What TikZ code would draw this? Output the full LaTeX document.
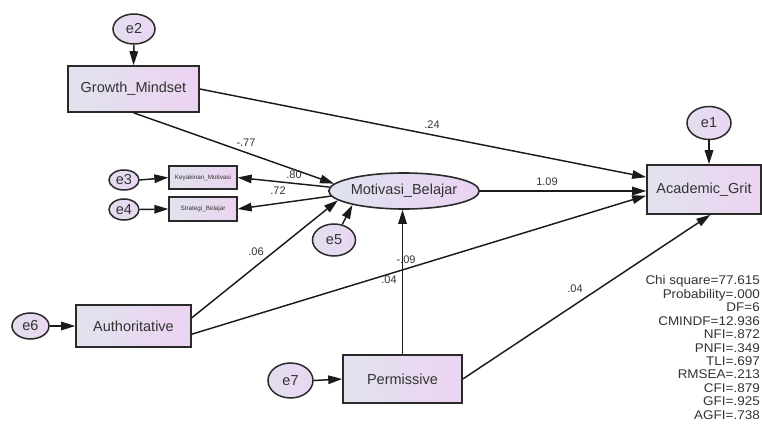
\documentclass[tikz,border=0pt]{standalone}
\usepackage{fontspec}
\usepackage{graphicx}
\setmainfont{Liberation Sans}
\usetikzlibrary{arrows.meta,shapes.geometric,calc}
\definecolor{boxL}{HTML}{E1E3EE}
\definecolor{boxR}{HTML}{ECD3F1}
\definecolor{latL}{HTML}{DFE2F0}
\definecolor{latR}{HTML}{EAD2F1}
\definecolor{errL}{HTML}{E3DEF0}
\definecolor{errR}{HTML}{EAD6F1}
\definecolor{bord}{HTML}{2A2A2A}
\definecolor{lin}{HTML}{1A1A1A}
\definecolor{txt}{HTML}{333333}
\begin{document}
\begin{tikzpicture}[x=1pt,y=-1pt,
  every node/.style={inner sep=0pt, text=txt},
  obsbox/.style={draw=bord, line width=1.6pt, left color=boxL, right color=boxR, font=\fontsize{14.5}{17}\selectfont},
  smallbox/.style={draw=bord, line width=1.3pt, left color=boxL, right color=boxR, font=\fontsize{6.3}{7}\selectfont, minimum width=68pt, minimum height=23pt},
  errc/.style={ellipse, draw=bord, line width=1.5pt, left color=errL, right color=errR, font=\fontsize{14.5}{16}\selectfont},
  lat/.style={ellipse, draw=bord, line width=1.6pt, left color=latL, right color=latR, font=\fontsize{14.5}{17}\selectfont},
  conn/.style={draw=lin, line width=1.45pt, -{Triangle[length=14pt,width=8.5pt]}},
  coef/.style={font=\fontsize{11}{13}\selectfont},
  stat/.style={font=\fontsize{12.6}{13.4}\selectfont, anchor=base east}
]
\useasboundingbox (0,0) rectangle (762,427);
\clip (0,0) rectangle (762,427);
\fill[white] (0,0) rectangle (762,427);

% nodes
\node[obsbox, minimum width=131pt, minimum height=46pt] (gm) at (133.5,89) {Growth\_Mindset};
\node[errc, minimum width=42pt, minimum height=30pt] (e2) at (134,29) {e2};
\node[lat, minimum width=136pt, minimum height=36pt] (mb) at (404,191) {Motivasi\_Belajar};
\node[errc, minimum width=43pt, minimum height=32pt] (e5) at (334,240) {e5};
\node[obsbox, minimum width=114pt, minimum height=49pt] (ag) at (704,189.5) {Academic\_Grit};
\node[errc, minimum width=44pt, minimum height=33pt] (e1) at (709,123) {e1};
\node[smallbox] (km) at (203,177.5) {Keyakinan\_Motivasi};
\node[smallbox, minimum height=24pt] (sb) at (203,209) {Strategi\_Belajar};
\node[errc, minimum width=30pt, minimum height=20pt] (e3) at (124,180) {e3};
\node[errc, minimum width=30pt, minimum height=21pt] (e4) at (124,209.5) {e4};
\node[obsbox, minimum width=115pt, minimum height=42pt] (au) at (133.5,326) {Authoritative};
\node[errc, minimum width=37pt, minimum height=26pt] (e6) at (30.5,326) {e6};
\node[obsbox, minimum width=119pt, minimum height=48pt] (pe) at (402.5,379) {Permissive};
\node[errc, minimum width=45pt, minimum height=35pt] (e7) at (290.5,380.5) {e7};

% connectors
\draw[conn] (e2.south) -- (gm.north);
\draw[conn] (e1.south) -- (e1.south |- ag.north);
\draw[conn] (e3.east) -- (km.west);
\draw[conn] (e4.east) -- (sb.west);
\draw[conn] (e6.east) -- (au.west);
\draw[conn] (e7.east) -- (pe.west);
\draw[conn] (e5.62) -- (mb.195);
\draw[conn] (gm.south) -- (mb.174);
\draw[conn] (mb.177) -- (km.east);
\draw[conn] (mb.184) -- (sb.east);
\draw[conn] (au.8) -- (mb.188);
\draw[conn] (au.-8) -- (ag.186.5);
\draw[conn] (gm.east) -- (ag.168);
\draw[conn] (mb.east) -- (mb.east -| ag.west);
\draw[conn] (pe.north) -- (pe.north |- mb.south);
\draw[conn] (pe.east) -- (ag.-76);

% coefficients
\node[coef] (c1) at (246,143) {-.77};
\node[coef] (c2) at (432,125) {.24};
\node[coef] (c3) at (294,175) {.80};
\node[coef] (c4) at (278,191) {.72};
\node[coef] (c5) at (547,182) {1.09};
\node[coef] (c6) at (256,252) {.06};
\node[coef] (c7) at (406,260) {-.09};
\node[coef] (c8) at (389,280) {.04};
\node[coef] (c9) at (575,289) {.04};

% fit statistics
\foreach \t [count=\i] in {Chi square=77.615, Probability=.000, DF=6, CMINDF=12.936, NFI=.872, PNFI=.349, TLI=.697, RMSEA=.213, CFI=.879, GFI=.925, AGFI=.738}
  \node[stat] (stat\i) at (760,{285+13.4*(\i-1)}) {\scalebox{1.07}[1]{\t}};
\end{tikzpicture}
\end{document}
